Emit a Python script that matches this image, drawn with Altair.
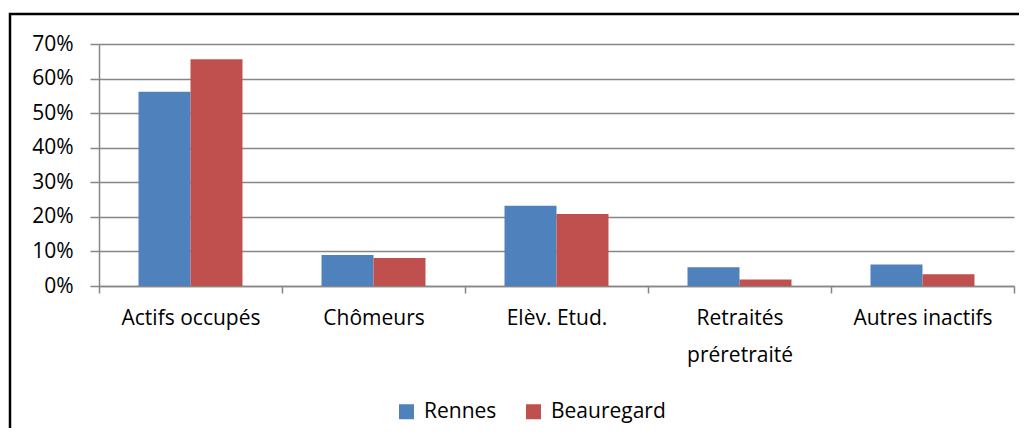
import altair as alt
import pandas as pd

categories = ["Actifs occupés", "Chômeurs", "Elèv. Etud.", "Retraités|préretraité", "Autres inactifs"]
series = ["Rennes", "Beauregard"]
rennes = [0.562, 0.090, 0.232, 0.054, 0.062]
beauregard = [0.656, 0.081, 0.208, 0.019, 0.034]
colors = ["#4F81BD", "#C0504D"]
y_ticks = [0, 0.1, 0.2, 0.3, 0.4, 0.5, 0.6, 0.7]

rows = []
for i, c in enumerate(categories):
    rows.append({"cat": c, "serie": "Rennes", "val": rennes[i]})
    rows.append({"cat": c, "serie": "Beauregard", "val": beauregard[i]})
df = pd.DataFrame(rows)

FONT = "Open Sans"
FS = 21

bars = alt.Chart(df).mark_bar().encode(
    x=alt.X("cat:N", sort=categories, title=None,
            scale=alt.Scale(paddingInner=0, paddingOuter=0),
            axis=alt.Axis(labelAngle=0, tickBand="extent", tickSize=7,
                          labelPadding=14, domainColor="#868686", tickColor="#868686",
                          domainWidth=1.5, tickWidth=1.5,
                          labelExpr="isValid(datum.value) ? split(datum.value, '|') : ''",
                          labelLineHeight=37,
                          labelFont=FONT, labelFontSize=FS, labelColor="#000000", grid=False)),
    xOffset=alt.XOffset("serie:N", sort=series,
                        scale=alt.Scale(paddingInner=0, paddingOuter=0.76)),
    y=alt.Y("val:Q", title=None,
            scale=alt.Scale(domain=[0, 0.7], nice=False),
            axis=alt.Axis(values=y_ticks, format=".0%", tickSize=9, labelPadding=17,
                          domainColor="#868686", tickColor="#868686", gridColor="#868686",
                          domainWidth=1.5, tickWidth=1.5, gridWidth=1.5,
                          labelFont=FONT, labelFontSize=FS, labelColor="#000000")),
    color=alt.Color("serie:N", sort=series,
                    scale=alt.Scale(domain=series, range=colors),
                    legend=alt.Legend(title=None, orient="none", direction="horizontal",
                                      legendX=297, legendY=357,
                                      symbolType="square", symbolSize=225,
                                      symbolStrokeWidth=0, symbolOpacity=1,
                                      labelFont=FONT, labelFontSize=FS, labelColor="#000000",
                                      labelOffset=7, columnPadding=26)),
)

frame = alt.Chart(pd.DataFrame({"a": [0]})).mark_rect(
    fill="white", fillOpacity=0, stroke="#000000", strokeWidth=2.5
).encode(
    x=alt.value(-89), x2=alt.value(960), y=alt.value(-30), y2=alt.value(440)
)

chart = alt.layer(frame, bars).properties(
    width=915, height=242,
    autosize=alt.AutoSizeParams(type="none"),
    padding={"left": 91, "top": 36, "right": 5, "bottom": 142},
).configure_view(stroke=None).configure_axis(labelFont=FONT)

chart.save("out.html", embed_options={"renderer": "svg", "actions": False})
